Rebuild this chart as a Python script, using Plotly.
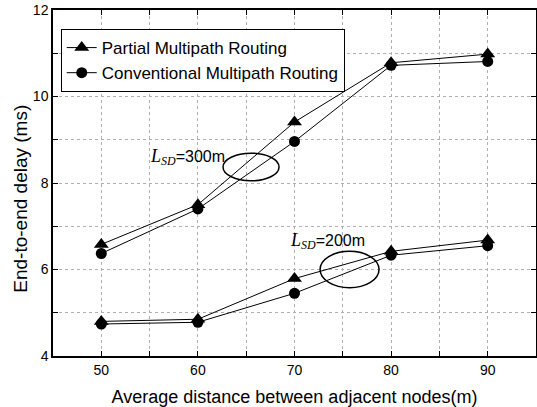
import plotly.graph_objects as go

x = [50, 60, 70, 80, 90]
partial_300 = [6.58, 7.5, 9.41, 10.78, 10.98]
conv_300 = [6.37, 7.40, 8.96, 10.72, 10.81]
partial_200 = [4.8, 4.85, 5.79, 6.42, 6.68]
conv_200 = [4.74, 4.78, 5.45, 6.33, 6.55]

FONT = "Arial, Liberation Sans, sans-serif"
SERIF = "Liberation Serif, Times New Roman, serif"
fig = go.Figure()

def add(y, sym, size, name, show):
    fig.add_trace(go.Scatter(
        x=x, y=y, mode="lines+markers", name=name, legendgroup=name, showlegend=show,
        line=dict(color="black", width=1),
        marker=dict(symbol=sym, size=size, color="black"),
    ))

add(partial_300, "triangle-up", 13, "Partial Multipath Routing", True)
add(conv_300, "circle", 11, "Conventional Multipath Routing", True)
add(partial_200, "triangle-up", 13, "Partial Multipath Routing", False)
add(conv_200, "circle", 11, "Conventional Multipath Routing", False)

# ellipses
fig.add_shape(type="circle", xref="x", yref="y", x0=62.6, x1=68.4, y0=8.05, y1=8.69,
              line=dict(color="black", width=1.5))
fig.add_shape(type="circle", xref="x", yref="y", x0=72.65, x1=78.75, y0=5.58, y1=6.42,
              line=dict(color="black", width=1.5))

def lsd(val):
    return (f"<span style='font-family:{SERIF};font-size:18px'><i>L</i></span>"
            f"<sub><span style='font-family:{SERIF};font-size:12px'><i>SD</i></span></sub>"
            + "=" + val)

fig.add_annotation(x=54.8, y=8.61, xref="x", yref="y", text=lsd("300m"), showarrow=False,
                   xanchor="left", yanchor="middle", font=dict(size=16, color="black", family=FONT))
fig.add_annotation(x=69.3, y=6.65, xref="x", yref="y", text=lsd("200m"), showarrow=False,
                   xanchor="left", yanchor="middle", font=dict(size=16, color="black", family=FONT))

# y-axis title (placed as rotated text, slightly below axis centre as in the original)
fig.add_annotation(x=-0.068, y=0.455, xref="paper", yref="paper", text="End-to-end delay (ms)",
                   textangle=-90, showarrow=False, xanchor="center", yanchor="middle",
                   font=dict(size=19, color="black", family=FONT))

axis_common = dict(
    showline=True, linecolor="black", linewidth=1.5, mirror="ticks",
    ticks="inside", ticklen=5, tickwidth=1, tickcolor="black",
    showgrid=True, gridcolor="#b0b0b0", griddash="dot", gridwidth=1,
    zeroline=False, tickfont=dict(size=14, color="black", family=FONT),
    automargin=False,
)
fig.update_xaxes(range=[45, 95], tick0=50, dtick=10,
                 minor=dict(dtick=5, tick0=50, ticks="inside", ticklen=5, tickcolor="black",
                            showgrid=True, gridcolor="#b0b0b0", griddash="dot"),
                 title=dict(text="Average distance between adjacent nodes(m)",
                            font=dict(size=18, color="black", family=FONT), standoff=14),
                 **axis_common)
fig.update_yaxes(range=[4, 12], tick0=4, dtick=2,
                 minor=dict(dtick=1, tick0=4, ticks="inside", ticklen=5, tickcolor="black",
                            showgrid=True, gridcolor="#b0b0b0", griddash="dot"),
                 **axis_common)

fig.update_layout(
    width=537, height=407,
    margin=dict(l=53, r=1, t=10, b=51, autoexpand=False),
    plot_bgcolor="white", paper_bgcolor="white",
    font=dict(family=FONT, color="black"),
    legend=dict(x=0.016, y=0.945, xanchor="left", yanchor="top",
                bordercolor="black", borderwidth=1, bgcolor="white",
                font=dict(size=17, color="black", family=FONT),
                tracegroupgap=0, itemwidth=30),
)

fig.write_html("out.html", config={"displayModeBar": False},
               post_script="document.body.style.margin='0px';document.body.style.overflow='hidden';")
